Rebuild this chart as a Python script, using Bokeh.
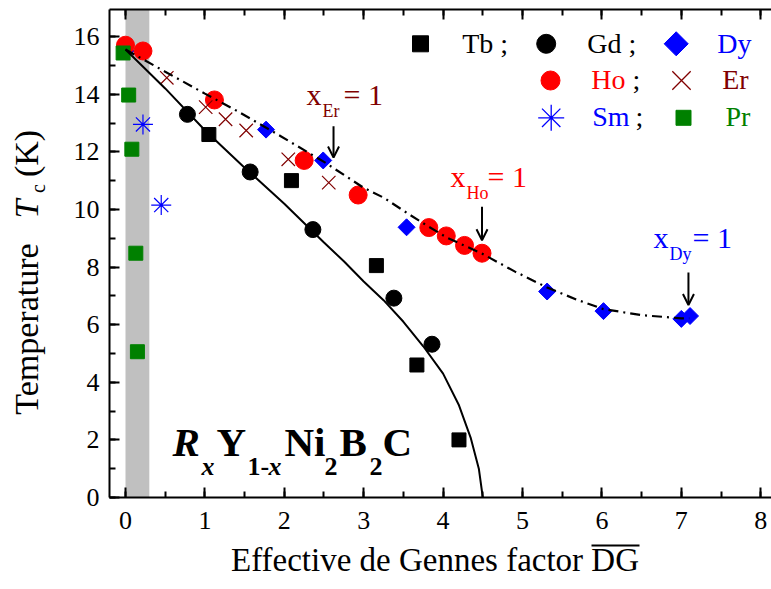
import math
from bokeh.plotting import figure
from bokeh.models import Label, Arrow, OpenHead, Range1d, LinearAxis, SingleIntervalTicker
from bokeh.layouts import row, column
from bokeh.embed import file_html
from bokeh.resources import INLINE

# ---------------- data ----------------
tb_x = [1.05, 2.09, 3.16, 3.67, 4.20]
tb_y = [12.6, 11.0, 8.05, 4.6, 2.0]
gd_x = [0.78, 1.57, 2.36, 3.38, 3.86]
gd_y = [13.3, 11.3, 9.3, 6.92, 5.32]
dy_x = [0.0, 1.77, 2.49, 3.54, 5.31, 6.02, 7.0, 7.11]
dy_y = [15.5, 12.77, 11.7, 9.38, 7.15, 6.47, 6.2, 6.3]
ho_x = [0.0, 0.22, 1.12, 2.25, 2.93, 3.82, 4.04, 4.27, 4.49]
ho_y = [15.7, 15.5, 13.8, 11.7, 10.5, 9.37, 9.08, 8.75, 8.48]
er_x = [0.52, 1.01, 1.26, 1.52, 2.05, 2.56]
er_y = [14.57, 13.55, 13.13, 12.74, 11.74, 10.93]
sm_x = [0.22, 0.45]
sm_y = [12.95, 10.15]
pr_x = [-0.03, 0.04, 0.08, 0.13, 0.15]
pr_y = [15.43, 13.97, 12.09, 8.48, 5.06]

# solid guide curve (Gd/Tb)
solid_x = [0, 0.5, 1.0, 1.5, 2.0, 2.5, 2.75, 3.0, 3.25, 3.5, 3.75, 4.0, 4.2, 4.35, 4.45, 4.5]
solid_y = [15.55, 14.2, 12.75, 11.45, 10.2, 8.85, 8.2, 7.5, 6.85, 6.1, 5.25, 4.3, 3.2, 2.05, 1.0, 0.0]
# dash-dot guide curve (Er/Ho/Dy)
dd_x = [0, 0.5, 1.0, 1.41, 1.95, 2.5, 3.0, 3.25, 3.6, 3.82, 4.05, 4.5, 4.9, 5.31, 5.7, 6.02, 6.5, 7.0, 7.1]
dd_y = [15.55, 14.78, 14.02, 13.41, 12.55, 11.65, 10.75, 10.41, 9.78, 9.4, 9.02, 8.45, 7.85, 7.29, 6.85, 6.54, 6.33, 6.22, 6.22]

# shaded band
band_x = [0.0, 0.3]

# arrows (x, y_from, y_to) for x_Er, x_Ho, x_Dy = 1
arrow_x = [2.62, 4.49, 7.09]
arrow_y0 = [12.89, 10.09, 7.81]
arrow_y1 = [11.80, 8.93, 6.68]

x_ticks_interval = 1
y_ticks_interval = 2

# ---------------- layout ----------------
W, H = 771, 589
LW = 55                 # width of the y-title strip
FL, FR, FT, FB = 109, 771, 9, 497
MB = 44                 # bottom border of main plot
MH = FB + MB            # main plot height
BH = H - MH             # x-title strip height
X0, X1 = -0.2015, 8.136
Y0, Y1 = 0.0, 16.94
Q = 0.36                # baseline correction (em)

def X(px):
    return X0 + (px - FL) / (FR - FL) * (X1 - X0)

def Y(py):
    return Y0 + (FB - py) / (FB - FT) * (Y1 - Y0)

SERIF = "Liberation Serif"
RED = "#ff0000"
BLUE = "#0000ff"
GREEN = "#008000"
DRED = "#800000"

p = figure(width=W - LW, height=MH, output_backend="svg", toolbar_location=None,
           x_range=Range1d(X0, X1), y_range=Range1d(Y0, Y1),
           min_border_left=FL - LW, min_border_right=W - FR,
           min_border_top=FT, min_border_bottom=MB)
p.outline_line_color = None
p.xgrid.visible = False
p.ygrid.visible = False
p.background_fill_color = "white"
p.border_fill_color = "white"

def style_axis(ax):
    ax.axis_line_width = 2
    ax.axis_line_color = "black"
    ax.major_tick_line_width = 2
    ax.minor_tick_line_width = 2
    ax.major_tick_in = 10
    ax.major_tick_out = 0
    ax.minor_tick_in = 6
    ax.minor_tick_out = 0
    ax.major_label_text_font = SERIF
    ax.major_label_text_font_size = "26px"
    ax.major_label_text_color = "black"

p.xaxis.ticker = SingleIntervalTicker(interval=x_ticks_interval, num_minor_ticks=2)
p.yaxis.ticker = SingleIntervalTicker(interval=y_ticks_interval, num_minor_ticks=2)
style_axis(p.xaxis[0])
style_axis(p.yaxis[0])
p.xaxis.major_label_standoff = 14
p.yaxis.major_label_standoff = 10

top = LinearAxis(ticker=SingleIntervalTicker(interval=x_ticks_interval, num_minor_ticks=2))
style_axis(top)
top.major_label_overrides = {i: "" for i in range(0, 9)}
top.major_label_standoff = 0
top.major_label_text_font_size = "1px"
p.add_layout(top, "above")

# band
p.quad(left=[band_x[0]], right=[band_x[1]], bottom=[Y0], top=[Y1],
       fill_color="#c0c0c0", line_color=None)

# markers
p.scatter(tb_x, tb_y, marker="square", size=14, fill_color="black", line_color="black")
p.scatter(gd_x, gd_y, marker="circle", size=16, fill_color="black", line_color="black")
p.scatter(dy_x, dy_y, marker="square", angle=math.pi / 4, size=12, fill_color=BLUE, line_color=BLUE)
p.scatter(ho_x, ho_y, marker="circle", size=18, fill_color=RED, line_color=RED)
p.scatter(er_x, er_y, marker="x", size=19, line_color=DRED, line_width=1.2)
p.scatter(sm_x, sm_y, marker="asterisk", size=20, line_color=BLUE, line_width=1.2)
p.scatter(pr_x, pr_y, marker="square", size=14, fill_color=GREEN, line_color=GREEN)

# guide curves
p.line(solid_x, solid_y, line_color="black", line_width=2)
p.line(dd_x, dd_y, line_color="black", line_width=2.2, line_dash="10 5 2 5")

# arrows
for ax_, a0, a1 in zip(arrow_x, arrow_y0, arrow_y1):
    p.add_layout(Arrow(x_start=ax_, y_start=a0, x_end=ax_, y_end=a1, line_width=2,
                       line_color="black",
                       end=OpenHead(size=11, line_width=2, line_color="black")))

def put(fig, x, y, text, size, color="black", style="normal", angle=0.0, align="left",
        baseline="alphabetic"):
    fig.add_layout(Label(x=x, y=y, text=text, text_font=SERIF,
                         text_font_size=f"{size}px", text_color=color,
                         text_font_style=style, text_align=align,
                         text_baseline=baseline, angle=angle))

def lab(px, py, text, size, color="black", style="normal"):
    put(p, X(px), Y(py - Q * size), text, size, color, style)

# annotations x_R = 1
for (px, py, sub, color) in [(306, 105, "Er", DRED), (450, 187, "Ho", RED), (653, 248, "Dy", BLUE)]:
    lab(px, py, "x", 30, color)
    lab(px + 16, py + 12, sub, 18, color)
    lab(px + 16 + (19 if sub != "Dy" else 21) + 2, py, "= 1", 30, color)

# legend
leg_rows = [43.3, 80.0, 117.3]
p.scatter([X(420)], [Y(leg_rows[0])], marker="square", size=16, fill_color="black", line_color="black")
p.scatter([X(545.7)], [Y(leg_rows[0])], marker="circle", size=19, fill_color="black", line_color="black")
p.scatter([X(675.7)], [Y(leg_rows[0])], marker="square", angle=math.pi / 4, size=17, fill_color=BLUE, line_color=BLUE)
p.scatter([X(550)], [Y(leg_rows[1])], marker="circle", size=19, fill_color=RED, line_color=RED)
p.scatter([X(681)], [Y(leg_rows[1])], marker="x", size=26, line_color=DRED, line_width=1.3)
p.scatter([X(550.7)], [Y(leg_rows[2])], marker="asterisk", size=26, line_color=BLUE, line_width=1.3)
p.scatter([X(683)], [Y(leg_rows[2])], marker="square", size=15, fill_color=GREEN, line_color=GREEN)

LS = 28
lab(461.7, 53, "Tb ;", LS)
lab(586.7, 53, "Gd ;", LS)
lab(716.7, 53, "Dy", LS, BLUE)
lab(590.7, 89.5, "Ho", LS, RED)
lab(632, 89.5, ";", LS)
lab(721.7, 89.5, "Er", LS, DRED)
lab(591.7, 126.5, "Sm", LS, BLUE)
lab(635, 126.5, ";", LS)
lab(725, 126.5, "Pr", LS, GREEN)

# compound formula R_x Y_1-x Ni_2 B_2 C
TS, SS = 41, 26
base, sbase = 456.7, 475
lab(172, base, "R", TS, style="bold italic")
lab(201, sbase, "x", SS, style="bold italic")
lab(216, base, "Y", TS, style="bold")
lab(247, sbase, "1-", SS, style="bold")
lab(268, sbase, "x", SS, style="bold italic")
lab(284, base, "Ni", TS, style="bold")
lab(324, sbase, "2", SS, style="bold")
lab(339, base, "B", TS, style="bold")
lab(369, sbase, "2", SS, style="bold")
lab(382, base, "C", TS, style="bold")

# ---------------- strips holding the axis titles ----------------
def strip(w, h, xr):
    f = figure(width=w, height=h, output_backend="svg", toolbar_location=None, title=None,
               x_range=Range1d(*xr), y_range=Range1d(h, 0),
               x_axis_location=None, y_axis_location=None,
               min_border=0, min_border_left=0, min_border_right=0,
               min_border_top=0, min_border_bottom=0)
    f.outline_line_color = None
    f.grid.visible = False
    f.background_fill_color = "white"
    f.border_fill_color = "white"
    return f

# y title: local coords == page coords; pieces centred (rotation-safe)
yl = strip(LW, H, (0, LW))
rot = math.pi / 2
YS = 34
put(yl, 26, 328.5, "Temperature", YS, angle=rot, align="center", baseline="middle")
put(yl, 26, 208.5, "T", YS, style="italic", angle=rot, align="center", baseline="middle")
put(yl, 37, 188, "c", 20, angle=rot, align="center", baseline="middle")
put(yl, 26, 153, "(K)", YS, angle=rot, align="center", baseline="middle")

# x title: frame is aligned with the main frame (page x 109..771)
xl = strip(W - LW, BH, (FL, FR))
XS = 33
put(xl, 434.5, 571 - MH - Q * XS, "Effective de Gennes factor DG", XS, align="center")
xl.add_layout(Arrow(x_start=591, y_start=545 - MH, x_end=639, y_end=545 - MH,
                    end=None, line_width=2, line_color="black"))

layout = row(yl, column(p, xl, spacing=0), spacing=0)
open("out.html", "w").write(file_html(layout, INLINE))
